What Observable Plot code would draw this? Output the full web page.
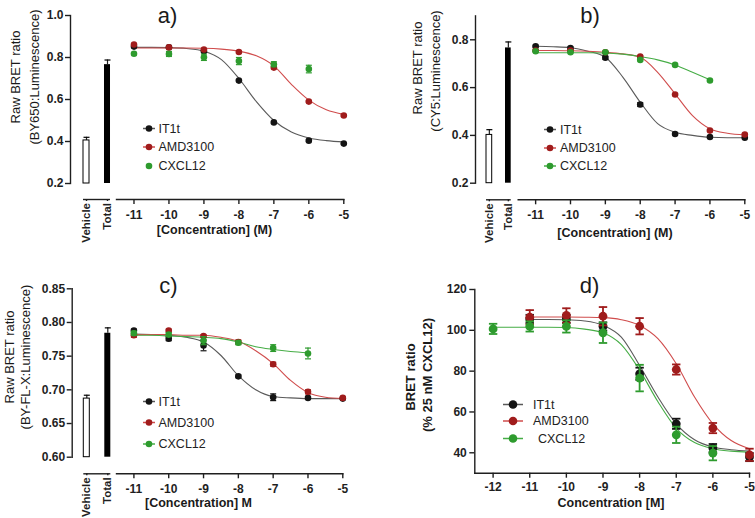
<!DOCTYPE html>
<html><head><meta charset="utf-8">
<script src="https://cdn.jsdelivr.net/npm/d3@7"></script>
<script src="https://cdn.jsdelivr.net/npm/@observablehq/plot@0.6"></script>
<style>
body{margin:0;background:#fff;}
#fig{position:relative;width:755px;height:518px;overflow:hidden;background:#fff;font-family:"Liberation Sans",Arial,Helvetica,sans-serif;color:#1a1a1a;}
#fig svg{position:absolute;overflow:visible;}
.lab{position:absolute;white-space:nowrap;line-height:1;}
</style></head><body><div id="fig"></div>
<script>
// ---------------- data ----------------
const seriesNames = ["IT1t", "AMD3100", "CXCL12"];
const dotColors = ["#141414", "#a01c1c", "#2e9b2e"];
const lineColors = ["#5a5a5a", "#d04c4c", "#46ad46"];
const barCats = ["Vehicle", "Total"];

const conc7 = [-11, -10, -9, -8, -7, -6, -5];
const conc6 = [-11, -10, -9, -8, -7, -6];
const fitConc7 = [-11, -10.5, -10, -9.5, -9, -8.5, -8, -7.5, -7, -6.5, -6, -5.5, -5];
const fitConc6 = [-11, -10.5, -10, -9.5, -9, -8.5, -8, -7.5, -7, -6.5, -6];
const concD12 = [-12, -11, -10, -9, -8, -7, -6];
const fitConcD12 = [-12, -11.5, -11, -10.5, -10, -9.5, -9, -8.5, -8, -7.5, -7, -6.5, -6, -5.5, -5];

const xTicksABC = [-11, -10, -9, -8, -7, -6, -5];
const xTicksD = [-12, -11, -10, -9, -8, -7, -6, -5];
const xDomainABC = [-11.5, -5];
const xDomainD = [-12.5, -5];

// panel a
const aYDomain = [0.2, 1.0];
const aYTicks = [0.2, 0.4, 0.6, 0.8, 1.0];
const aBars = [0.405, 0.766];
const aBarsErr = [0.015, 0.022];
const aIT1t = [0.852, 0.849, 0.830, 0.690, 0.491, 0.404, 0.390];
const aIT1tErr = [0.005, 0.006, 0.005, 0.004, 0.004, 0.004, 0.003];
const aAMD = [0.862, 0.848, 0.838, 0.826, 0.752, 0.590, 0.524];
const aAMDErr = [0.004, 0.004, 0.003, 0.004, 0.006, 0.004, 0.004];
const aCXCL = [0.818, 0.817, 0.801, 0.783, 0.768, 0.745];
const aCXCLErr = [0.006, 0.012, 0.015, 0.017, 0.012, 0.018];
const aFitIT1t = [0.848, 0.848, 0.847, 0.843, 0.830, 0.790, 0.700, 0.590, 0.500, 0.445, 0.417, 0.404, 0.398];
const aFitAMD = [0.845, 0.845, 0.845, 0.845, 0.844, 0.840, 0.830, 0.808, 0.760, 0.672, 0.597, 0.551, 0.529];

// panel b
const bYDomain = [0.2, 0.9];
const bYTicks = [0.2, 0.4, 0.6, 0.8];
const bBars = [0.402, 0.766];
const bBarsErr = [0.022, 0.025];
const bIT1t = [0.773, 0.766, 0.725, 0.529, 0.406, 0.393, 0.390];
const bIT1tErr = [0.004, 0.004, 0.006, 0.008, 0.004, 0.003, 0.003];
const bAMD = [0.755, 0.755, 0.748, 0.730, 0.571, 0.420, 0.404];
const bAMDErr = [0.003, 0.003, 0.003, 0.004, 0.004, 0.004, 0.004];
const bCXCL = [0.752, 0.748, 0.748, 0.716, 0.695, 0.630];
const bCXCLErr = [0.003, 0.003, 0.003, 0.004, 0.004, 0.004];
const bFitIT1t = [0.773, 0.771, 0.767, 0.752, 0.727, 0.644, 0.539, 0.449, 0.413, 0.400, 0.392, 0.390, 0.390];
const bFitAMD = [0.755, 0.755, 0.754, 0.752, 0.748, 0.741, 0.727, 0.664, 0.574, 0.483, 0.428, 0.409, 0.402];
const bFitCXCL = [0.746, 0.746, 0.746, 0.746, 0.745, 0.740, 0.730, 0.716, 0.695, 0.664, 0.633];

// panel c
const cYDomain = [0.60, 0.85];
const cYTicks = [0.60, 0.65, 0.70, 0.75, 0.80, 0.85];
const cBars = [0.687, 0.784];
const cBarsErr = [0.005, 0.008];
const cIT1t = [0.788, 0.776, 0.766, 0.720, 0.689, 0.688, 0.687];
const cIT1tErr = [0.002, 0.003, 0.008, 0.002, 0.005, 0.002, 0.001];
const cAMD = [0.781, 0.788, 0.780, 0.771, 0.738, 0.697, 0.688];
const cAMDErr = [0.003, 0.002, 0.002, 0.003, 0.003, 0.003, 0.001];
const cCXCL = [0.784, 0.782, 0.773, 0.770, 0.762, 0.754];
const cCXCLErr = [0.003, 0.003, 0.006, 0.003, 0.005, 0.008];
const cFitIT1t = [0.783, 0.782, 0.781, 0.778, 0.771, 0.751, 0.721, 0.700, 0.690, 0.688, 0.687, 0.687, 0.687];
const cFitAMD = [0.782, 0.782, 0.782, 0.781, 0.781, 0.778, 0.772, 0.758, 0.739, 0.714, 0.696, 0.689, 0.687];
const cFitCXCL = [0.781, 0.781, 0.780, 0.779, 0.778, 0.776, 0.771, 0.764, 0.760, 0.757, 0.755];

// panel d
const dYDomain = [30, 120];
const dYTicks = [40, 60, 80, 100, 120];
const dIT1t = [105.6, 105.6, 101.9, 78.7, 54.2, 42.3, 37.9];
const dIT1tErr = [2, 2, 2, 3, 2.5, 2, 2];
const dAMD = [106.4, 107.3, 106.9, 102.0, 80.8, 52.1, 39.0];
const dAMDErr = [3.5, 3.5, 4.5, 4, 2.5, 2.5, 3];
const dCXCL = [100.7, 101.9, 101.9, 98.8, 76.6, 48.8, 39.8];
const dCXCLErr = [2.5, 2.5, 3, 5, 6.5, 4, 3.5];
const dFitIT1t = [105.3, 105.3, 105.2, 104.6, 102.5, 96.7, 82.8, 67.3, 54.2, 46.4, 42.8, 41.5, 40.8];
const dFitAMD = [106.5, 106.5, 106.5, 106.4, 106.2, 105.2, 102.4, 95.9, 83.6, 67.3, 54.2, 46.0, 42.0];
const dFitCXCL = [101.5, 101.5, 101.5, 101.5, 101.4, 100.6, 98.8, 93.0, 80.5, 65.0, 52.0, 45.0, 42.0, 40.8, 40.3];

// ---------------- helpers ----------------
const fig = document.getElementById("fig");
const FONT = '"Liberation Sans", Arial, Helvetica, sans-serif';
const capSymbol = {draw(ctx, size) { const w = Math.sqrt(size / Math.PI); ctx.moveTo(-w, 0); ctx.lineTo(w, 0); }};
const pts = (xs, vs, es) => xs.map((x, i) => ({x, v: vs[i], e: es[i]}));
const fit = (xs, vs) => xs.map((x, i) => ({x, v: vs[i]}));

function place(svg, left, top) { svg.style.left = left + "px"; svg.style.top = top + "px"; fig.appendChild(svg); }
function baseStyle() { return {fontFamily: FONT, fontSize: "12px", fontWeight: "bold", color: "#1f1f1f", background: "none", overflow: "visible"}; }

function seriesLayer(list, r, capR, sw) {
  const lines = [], marks = [];
  for (const s of list) {
    if (s.fit) lines.push(Plot.line(s.fit, {x: "x", y: "v", stroke: lineColors[s.k], strokeWidth: 1.1, curve: "monotone-x"}));
    const c = dotColors[s.k];
    marks.push(
      Plot.ruleX(s.pts, {x: "x", y1: d => d.v - d.e, y2: d => d.v + d.e, stroke: c, strokeWidth: sw}),
      Plot.dot(s.pts, {x: "x", y: d => d.v + d.e, symbol: capSymbol, r: capR, stroke: c, fill: "none", strokeWidth: sw}),
      Plot.dot(s.pts, {x: "x", y: d => d.v - d.e, symbol: capSymbol, r: capR, stroke: c, fill: "none", strokeWidth: sw}),
      Plot.dot(s.pts, {x: "x", y: "v", r, fill: c, stroke: "none"})
    );
  }
  return [...lines, ...marks];
}

function barsPlot(o) {
  const bars = barCats.map((c, i) => ({c, v: o.vals[i], e: o.errs[i]}));
  const svg = Plot.plot({
    width: o.width, height: o.height,
    marginLeft: o.ml, marginRight: o.mr, marginTop: o.mt, marginBottom: o.mb,
    style: baseStyle(),
    x: {domain: barCats, paddingInner: o.pi, paddingOuter: o.po, round: false},
    y: {domain: o.yDomain, insetBottom: o.inset},
    marks: [
      Plot.frame({anchor: "left", insetBottom: o.inset, strokeWidth: 1.4}),
      Plot.axisY({ticks: o.yTicks, tickFormat: o.yFmt, tickSize: 5, tickPadding: 2, strokeWidth: 1.4, label: null}),
      Plot.ruleY([o.yDomain[0]], {x1: () => barCats[0], x2: () => barCats[1], dy: o.inset, strokeWidth: 1.4}),
      Plot.axisX({tickRotate: -90, tickSize: 2, tickPadding: 1.5, fontSize: 11.5, strokeWidth: 1.4, label: null}),
      Plot.ruleX(bars, {x: "c", y1: "v", y2: d => d.v + d.e, strokeWidth: 1.2}),
      Plot.dot(bars, {x: "c", y: d => d.v + d.e, symbol: capSymbol, r: 3, stroke: "#000", fill: "none", strokeWidth: 1.2}),
      Plot.barY(bars.filter(d => d.c === "Vehicle"), {x: "c", y1: o.yDomain[0], y2: "v", fill: "#fff", stroke: "#000", strokeWidth: 1}),
      Plot.barY(bars.filter(d => d.c === "Total"), {x: "c", y1: o.yDomain[0], y2: "v", fill: "#000"})
    ]
  });
  place(svg, o.left, o.top);
}

function curvePlot(o) {
  const svg = Plot.plot({
    width: o.width, height: o.height,
    marginLeft: o.ml, marginRight: o.mr, marginTop: o.mt, marginBottom: o.mb,
    style: baseStyle(),
    x: {domain: o.xDomain},
    y: {domain: o.yDomain, insetBottom: o.inset || 0, axis: o.yAxis ? undefined : null},
    marks: [
      Plot.frame({anchor: "bottom", strokeWidth: 1.4}),
      ...(o.yAxis ? [
        Plot.frame({anchor: "left", strokeWidth: 1.4}),
        Plot.axisY({ticks: o.yTicks, tickFormat: o.yFmt, tickSize: 5, tickPadding: 3, strokeWidth: 1.4, label: null})
      ] : []),
      Plot.axisX({ticks: o.xTicks, tickFormat: d => String(d), tickSize: 5, tickPadding: o.tp, strokeWidth: 1.4, label: null}),
      ...seriesLayer(o.series, o.r, o.capR, o.sw)
    ]
  });
  place(svg, o.left, o.top);
}

function label(text, cx, cy, opt = {}) {
  const d = document.createElement("div");
  d.className = "lab";
  d.textContent = text;
  d.style.left = cx + "px";
  d.style.top = cy + "px";
  d.style.fontSize = (opt.size || 13) + "px";
  d.style.fontWeight = opt.weight || "normal";
  d.style.transform = "translate(-50%,-50%)" + (opt.rotate ? " rotate(-90deg)" : "");
  fig.appendChild(d);
}

const NS = "http://www.w3.org/2000/svg";
const legendSvg = document.createElementNS(NS, "svg");
legendSvg.setAttribute("width", 755); legendSvg.setAttribute("height", 518);
legendSvg.style.left = "0px"; legendSvg.style.top = "0px"; legendSvg.style.pointerEvents = "none";
function legend(o) {
  seriesNames.forEach((name, k) => {
    const cy = o.rows[k];
    if (o.showLine[k]) {
      const l = document.createElementNS(NS, "line");
      l.setAttribute("x1", o.x1); l.setAttribute("x2", o.x2); l.setAttribute("y1", cy); l.setAttribute("y2", cy);
      l.setAttribute("stroke", lineColors[k]); l.setAttribute("stroke-width", 1.5);
      legendSvg.appendChild(l);
    }
    const c = document.createElementNS(NS, "circle");
    c.setAttribute("cx", (o.x1 + o.x2) / 2); c.setAttribute("cy", cy); c.setAttribute("r", o.r);
    c.setAttribute("fill", dotColors[k]);
    legendSvg.appendChild(c);
    const t = document.createElement("div");
    t.className = "lab"; t.textContent = name;
    t.style.left = (o.textX + (o.textShift ? o.textShift[k] : 0)) + "px"; t.style.top = cy + "px";
    t.style.fontSize = "12.5px"; t.style.transform = "translateY(-50%)"; t.style.color = "#222";
    fig.appendChild(t);
  });
}

// ---------------- panel a ----------------
barsPlot({left: 0, top: 0, width: 125, height: 250, ml: 70, mr: 2, mt: 15, mb: 51, inset: 16,
  pi: 0.714, po: 0.619, yDomain: aYDomain, yTicks: aYTicks, yFmt: d3.format(".1f"), vals: aBars, errs: aBarsErr});
curvePlot({left: 100, top: 0, width: 260, height: 250, ml: 16, mr: 16.7, mt: 15, mb: 51, inset: 16, tp: 6,
  xDomain: xDomainABC, yDomain: aYDomain, xTicks: xTicksABC, r: 3.3, capR: 3, sw: 1.2,
  series: [
    {k: 0, pts: pts(conc7, aIT1t, aIT1tErr), fit: fit(fitConc7, aFitIT1t)},
    {k: 1, pts: pts(conc7, aAMD, aAMDErr), fit: fit(fitConc7, aFitAMD)},
    {k: 2, pts: pts(conc6, aCXCL, aCXCLErr), fit: null}
  ]});

// ---------------- panel b ----------------
barsPlot({left: 375, top: 0, width: 150, height: 250, ml: 100, mr: 3.3, mt: 15.4, mb: 50.7, inset: 16.6,
  pi: 0.70, po: 0.579, yDomain: bYDomain, yTicks: bYTicks, yFmt: d3.format(".1f"), vals: bBars, errs: bBarsErr});
curvePlot({left: 500, top: 0, width: 255, height: 250, ml: 17.7, mr: 10.7, mt: 15.4, mb: 50.7, inset: 16.6, tp: 6,
  xDomain: xDomainABC, yDomain: bYDomain, xTicks: xTicksABC, r: 3.3, capR: 3, sw: 1.2,
  series: [
    {k: 0, pts: pts(conc7, bIT1t, bIT1tErr), fit: fit(fitConc7, bFitIT1t)},
    {k: 1, pts: pts(conc7, bAMD, bAMDErr), fit: fit(fitConc7, bFitAMD)},
    {k: 2, pts: pts(conc6, bCXCL, bCXCLErr), fit: fit(fitConc6, bFitCXCL)}
  ]});

// ---------------- panel c ----------------
barsPlot({left: 0, top: 255, width: 125, height: 263, ml: 71.7, mr: 3.1, mt: 33.3, mb: 44.7, inset: 16.6,
  pi: 0.714, po: 0.552, yDomain: cYDomain, yTicks: cYTicks, yFmt: d3.format(".2f"), vals: cBars, errs: cBarsErr});
curvePlot({left: 100, top: 255, width: 260, height: 263, ml: 16, mr: 17.7, mt: 33.3, mb: 44.7, inset: 16.6, tp: 5.5,
  xDomain: xDomainABC, yDomain: cYDomain, xTicks: xTicksABC, r: 3.3, capR: 3, sw: 1.2,
  series: [
    {k: 0, pts: pts(conc7, cIT1t, cIT1tErr), fit: fit(fitConc7, cFitIT1t)},
    {k: 1, pts: pts(conc7, cAMD, cAMDErr), fit: fit(fitConc7, cFitAMD)},
    {k: 2, pts: pts(conc6, cCXCL, cCXCLErr), fit: fit(fitConc6, cFitCXCL)}
  ]});

// ---------------- panel d ----------------
curvePlot({left: 430, top: 255, width: 325, height: 263, ml: 44.3, mr: 6, mt: 34, mb: 45.3, inset: 0, tp: 4,
  yAxis: true, yTicks: dYTicks, yFmt: d3.format("d"),
  xDomain: xDomainD, yDomain: dYDomain, xTicks: xTicksD, r: 4.4, capR: 4.2, sw: 1.8,
  series: [
    {k: 0, pts: pts(conc7, dIT1t, dIT1tErr), fit: fit(fitConc7, dFitIT1t)},
    {k: 1, pts: pts(conc7, dAMD, dAMDErr), fit: fit(fitConc7, dFitAMD)},
    {k: 2, pts: pts(concD12, dCXCL, dCXCLErr), fit: fit(fitConcD12, dFitCXCL)}
  ]});

// ---------------- text ----------------
label("a)", 167.5, 16, {size: 22});
label("b)", 590, 16, {size: 22});
label("c)", 168.5, 286, {size: 22});
label("d)", 589.6, 286, {size: 22});

label("[Concentration] (M)", 214.5, 230, {size: 12.5, weight: "bold"});
label("[Concentration] (M)", 615, 233, {size: 12.5, weight: "bold"});
label("[Concentration] M", 198.5, 503, {size: 12.5, weight: "bold"});
label("Concentration [M]", 611, 503, {size: 12.5, weight: "bold"});

label("Raw BRET ratio", 15, 77, {rotate: true});
label("(BY650:Luminescence)", 33.5, 77, {rotate: true});
label("Raw BRET ratio", 417, 68, {rotate: true});
label("(CY5:Luminescence)", 435, 71, {rotate: true});
label("Raw BRET ratio", 9, 357, {rotate: true});
label("(BY-FL-X:Luminescence)", 25, 357, {rotate: true});
label("BRET ratio", 410, 377, {rotate: true, weight: "bold"});
label("(% 25 nM CXCL12)", 427, 375, {rotate: true, weight: "bold"});

// ---------------- legends ----------------
legend({x1: 143, x2: 155, textX: 158.5, rows: [128.5, 147, 166], r: 3.3, showLine: [true, true, false]});
legend({x1: 544, x2: 556, textX: 560, rows: [129.5, 148, 166], r: 3.3, showLine: [true, true, true]});
legend({x1: 143, x2: 155, textX: 158.5, rows: [401.5, 422.5, 444], r: 3.3, showLine: [true, true, true]});
legend({x1: 503, x2: 523, textX: 533, textShift: [0, 0, 5], rows: [404.5, 421, 438.5], r: 4.3, showLine: [true, true, true]});
fig.appendChild(legendSvg);
</script></body></html>
